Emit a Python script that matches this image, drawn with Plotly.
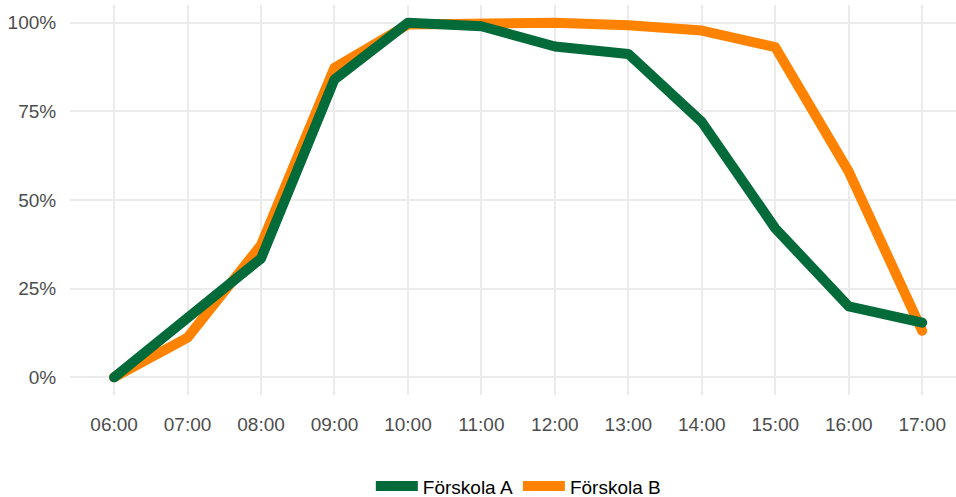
import plotly.graph_objects as go


###############################################################################
# data (andel närvarande barn per timme)
###############################################################################

hours = ["06:00", "07:00", "08:00", "09:00", "10:00", "11:00",
         "12:00", "13:00", "14:00", "15:00", "16:00", "17:00"]

forskola_a = [0.0, 0.17, 0.335, 0.84, 1.0, 0.99, 0.933, 0.912, 0.72, 0.42, 0.20, 0.154]
forskola_b = [0.0, 0.112, 0.373, 0.873, 0.995, 1.0, 1.0, 0.993, 0.978, 0.931, 0.58, 0.131]

series_names = ["Förskola A", "Förskola B"]
series_colors = ["#036B39", "#FF8300"]


###############################################################################
###############################################################################

x_idx = list(range(len(hours)))

fig = go.Figure()

# B ritas först så att A hamnar överst, legendrank håller ordningen A, B
for rank, name, values, color in reversed(list(zip([1, 2], series_names, [forskola_a, forskola_b], series_colors))):
    fig.add_trace(go.Scatter(x=x_idx,
                             y=values,
                             mode="lines",
                             name=name,
                             legendrank=rank,
                             line=dict(color=color, width=10),
                             ))

fig.update_layout(width=956,
                  height=497,
                  margin=dict(l=70, r=0, t=5, b=102, autoexpand=False),
                  paper_bgcolor="white",
                  plot_bgcolor="white",
                  font=dict(family="Liberation Sans, Arial, sans-serif", size=19, color="#4D4D4D"),
                  showlegend=True,
                  legend=dict(orientation="h",
                              x=0.506, xanchor="center",
                              y=-0.234, yanchor="middle",
                              font=dict(color="black", size=19),
                              itemwidth=42,
                              ),
                  )

fig.update_xaxes(range=[-0.6, 11.46],
                 tickvals=x_idx,
                 ticktext=hours,
                 showgrid=True,
                 gridcolor="#EBEBEB",
                 gridwidth=2,
                 zeroline=False,
                 ticks="outside",
                 ticklen=12,
                 tickcolor="rgba(0,0,0,0)",
                 automargin=False,
                 )

fig.update_yaxes(range=[-0.05, 1.05],
                 tickvals=[0, 0.25, 0.5, 0.75, 1.0],
                 tickformat=".0%",
                 showgrid=True,
                 gridcolor="#EBEBEB",
                 gridwidth=2,
                 zeroline=False,
                 ticks="outside",
                 ticklen=9,
                 tickcolor="rgba(0,0,0,0)",
                 automargin=False,
                 )

# body har 8px marginal som standard i webbläsaren, och linjerna ska ha runda ändar
js = """
document.body.style.margin='0';
var st = document.createElement('style');
st.textContent = '.scatterlayer path.js-line {stroke-linecap: round; stroke-linejoin: round;}';
document.head.appendChild(st);
"""
fig.write_html("out.html",
               config={"displayModeBar": False},
               post_script=js)
